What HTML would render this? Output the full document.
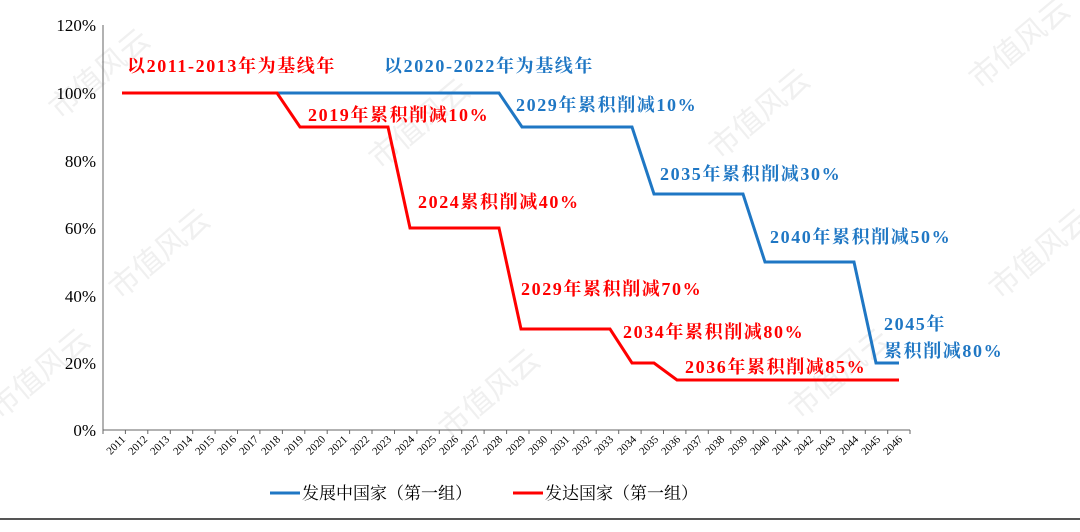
<!DOCTYPE html>
<html><head><meta charset="utf-8"><style>
body{margin:0;background:#fff;}
svg{display:block;font-family:"Liberation Serif","Noto Serif CJK SC",serif;}
.a{font-weight:bold;font-size:18px;letter-spacing:1.6px;}
</style></head><body>
<svg width="1080" height="532" viewBox="0 0 1080 532">
<g fill="#f0f0f0" font-size="30" font-family="'Noto Sans CJK SC',sans-serif">
<text transform="translate(60,120) rotate(-40)">市值风云</text>
<text transform="translate(380,170) rotate(-40)">市值风云</text>
<text transform="translate(120,300) rotate(-40)">市值风云</text>
<text transform="translate(0,420) rotate(-40)">市值风云</text>
<text transform="translate(450,440) rotate(-40)">市值风云</text>
<text transform="translate(720,160) rotate(-40)">市值风云</text>
<text transform="translate(800,420) rotate(-40)">市值风云</text>
<text transform="translate(980,90) rotate(-40)">市值风云</text>
<text transform="translate(1000,300) rotate(-40)">市值风云</text>
</g>
<g font-size="17" fill="#000" text-anchor="end">
<text x="96" y="31">120%</text><text x="96" y="99">100%</text><text x="96" y="167">80%</text>
<text x="96" y="234">60%</text><text x="96" y="302">40%</text><text x="96" y="369">20%</text><text x="96" y="436">0%</text>
</g>
<line x1="103" y1="25" x2="103" y2="430" stroke="#666" stroke-width="1"/>
<line x1="103" y1="430" x2="910" y2="430" stroke="#666" stroke-width="1"/>
<path stroke="#666" d="M103 430v4M125.4 430v4M147.8 430v4M170.3 430v4M192.7 430v4M215.1 430v4M237.5 430v4M259.9 430v4M282.4 430v4M304.8 430v4M327.2 430v4M349.6 430v4M372 430v4M394.5 430v4M416.9 430v4M439.3 430v4M461.7 430v4M484.1 430v4M506.6 430v4M529 430v4M551.4 430v4M573.8 430v4M596.2 430v4M618.7 430v4M641.1 430v4M663.5 430v4M685.9 430v4M708.3 430v4M730.8 430v4M753.2 430v4M775.6 430v4M798 430v4M820.4 430v4M842.9 430v4M865.3 430v4M887.7 430v4M910 430v4"/>
<g font-size="11" fill="#000" text-anchor="end">
<text transform="translate(126,440) rotate(-45)">2011</text>
<text transform="translate(148,440) rotate(-45)">2012</text>
<text transform="translate(170,440) rotate(-45)">2013</text>
<text transform="translate(193,440) rotate(-45)">2014</text>
<text transform="translate(215,440) rotate(-45)">2015</text>
<text transform="translate(237,440) rotate(-45)">2016</text>
<text transform="translate(259,440) rotate(-45)">2017</text>
<text transform="translate(281,440) rotate(-45)">2018</text>
<text transform="translate(304,440) rotate(-45)">2019</text>
<text transform="translate(326,440) rotate(-45)">2020</text>
<text transform="translate(348,440) rotate(-45)">2021</text>
<text transform="translate(370,440) rotate(-45)">2022</text>
<text transform="translate(392,440) rotate(-45)">2023</text>
<text transform="translate(415,440) rotate(-45)">2024</text>
<text transform="translate(437,440) rotate(-45)">2025</text>
<text transform="translate(459,440) rotate(-45)">2026</text>
<text transform="translate(481,440) rotate(-45)">2027</text>
<text transform="translate(503,440) rotate(-45)">2028</text>
<text transform="translate(526,440) rotate(-45)">2029</text>
<text transform="translate(548,440) rotate(-45)">2030</text>
<text transform="translate(570,440) rotate(-45)">2031</text>
<text transform="translate(592,440) rotate(-45)">2032</text>
<text transform="translate(614,440) rotate(-45)">2033</text>
<text transform="translate(637,440) rotate(-45)">2034</text>
<text transform="translate(659,440) rotate(-45)">2035</text>
<text transform="translate(681,440) rotate(-45)">2036</text>
<text transform="translate(703,440) rotate(-45)">2037</text>
<text transform="translate(725,440) rotate(-45)">2038</text>
<text transform="translate(748,440) rotate(-45)">2039</text>
<text transform="translate(770,440) rotate(-45)">2040</text>
<text transform="translate(792,440) rotate(-45)">2041</text>
<text transform="translate(814,440) rotate(-45)">2042</text>
<text transform="translate(836,440) rotate(-45)">2043</text>
<text transform="translate(859,440) rotate(-45)">2044</text>
<text transform="translate(881,440) rotate(-45)">2045</text>
<text transform="translate(903,440) rotate(-45)">2046</text>
</g>
<polyline fill="none" stroke="#1f77c4" stroke-width="3" points="122,93 499,93 522,127 632,127 654,194 743,194 765,262 854,262 876,363 899,363"/>
<polyline fill="none" stroke="#ff0000" stroke-width="3" points="122,93 277,93 300,127 388,127 410,228 499,228 521,329 610,329 632,363 654,363 677,380 899,380"/>
<g class="a" fill="#ff0000">
<text x="127" y="72">以2011-2013年为基线年</text>
<text x="308" y="121">2019年累积削减10%</text>
<text x="418" y="208">2024累积削减40%</text>
<text x="521" y="295">2029年累积削减70%</text>
<text x="623" y="338">2034年累积削减80%</text>
<text x="685" y="373">2036年累积削减85%</text>
</g>
<g class="a" fill="#1f77c4">
<text x="384" y="72">以2020-2022年为基线年</text>
<text x="516" y="111">2029年累积削减10%</text>
<text x="660" y="180">2035年累积削减30%</text>
<text x="770" y="243">2040年累积削减50%</text>
<text x="884" y="330">2045年</text>
<text x="884" y="357">累积削减80%</text>
</g>
<line x1="270" y1="493" x2="300" y2="493" stroke="#1f77c4" stroke-width="3"/>
<text x="302" y="499" font-size="17">发展中国家（第一组）</text>
<line x1="513" y1="493" x2="543" y2="493" stroke="#ff0000" stroke-width="3"/>
<text x="545" y="499" font-size="17">发达国家（第一组）</text>
<line x1="0" y1="519" x2="1080" y2="519" stroke="#555" stroke-width="2"/>
</svg>
</body></html>
